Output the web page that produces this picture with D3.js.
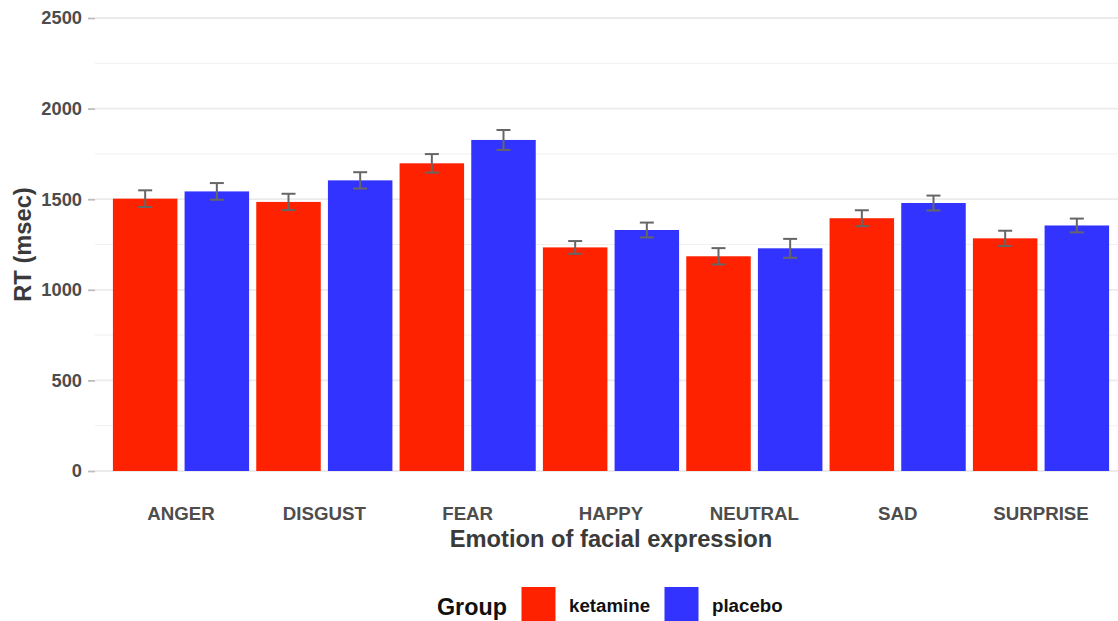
<!DOCTYPE html>
<html>
<head>
<meta charset="utf-8">
<script src="https://cdn.jsdelivr.net/npm/d3@7"></script>
<style>
  body { margin: 0; background: #fff; }
  text { font-family: "Liberation Sans", Arial, sans-serif; font-weight: bold; }
</style>
</head>
<body>
<svg id="chart" width="1118" height="621"></svg>
<script>
// chart data
const emotions = ['ANGER', 'DISGUST', 'FEAR', 'HAPPY', 'NEUTRAL', 'SAD', 'SURPRISE'];
const groups = ['ketamine', 'placebo'];
const ketamineRT = [1503, 1485, 1698, 1234, 1185, 1395, 1284];
const ketamineSE = [46, 45, 51, 35, 45, 44, 42];
const placeboRT = [1543, 1604, 1827, 1330, 1229, 1479, 1355];
const placeboSE = [46, 45, 55, 41, 52, 41, 38];
const yTicks = [0, 500, 1000, 1500, 2000, 2500];
const yMinor = [250, 750, 1250, 1750, 2250];

const colors = { ketamine: '#ff2200', placebo: '#3333ff' };

const rows = [];
emotions.forEach((e, i) => {
  rows.push({ emotion: e, group: 'ketamine', rt: ketamineRT[i], se: ketamineSE[i] });
  rows.push({ emotion: e, group: 'placebo', rt: placeboRT[i], se: placeboSE[i] });
});

const svg = d3.select('#chart');

// panel bounds (the right edge runs past the picture, as in the reference)
const panel = { left: 95, right: 1127, top: 0, bottom: 471 };
const step = (panel.right - panel.left) / (emotions.length + 0.2);

// one band per emotion, with 0.6 of a band of room at each end
const x = d3.scaleBand()
  .domain(emotions)
  .range([panel.left + 0.1 * step, panel.right - 0.1 * step])
  .paddingInner(0)
  .paddingOuter(0);

// dodge: each group gets half a band, bar fills 0.9 of it
const xGroup = d3.scaleBand()
  .domain(groups)
  .range([0, x.bandwidth()])
  .paddingInner(0.1)
  .paddingOuter(0.05);

const y = d3.scaleLinear()
  .domain([0, 2500])
  .range([471, 18]);

// Step 1: gridlines
const grid = svg.append('g').attr('class', 'grid');

grid.selectAll('line.minor')
  .data(yMinor)
  .join('line')
  .attr('class', 'minor')
  .attr('x1', panel.left).attr('x2', 1118)
  .attr('y1', d => y(d)).attr('y2', d => y(d))
  .attr('stroke', '#f0f0f0')
  .attr('stroke-width', 1);

grid.selectAll('line.major')
  .data(yTicks)
  .join('line')
  .attr('class', 'major')
  .attr('x1', panel.left).attr('x2', 1118)
  .attr('y1', d => y(d)).attr('y2', d => y(d))
  .attr('stroke', '#ebebeb')
  .attr('stroke-width', 1.8);

// Step 2: bars
svg.append('g').attr('class', 'bars')
  .selectAll('rect')
  .data(rows)
  .join('rect')
  .attr('x', d => x(d.emotion) + xGroup(d.group))
  .attr('y', d => y(d.rt))
  .attr('width', xGroup.bandwidth())
  .attr('height', d => y(0) - y(d.rt))
  .attr('fill', d => colors[d.group]);

// Step 3: error bars
const errG = svg.append('g').attr('class', 'errors')
  .selectAll('g')
  .data(rows)
  .join('g')
  .attr('transform', d => `translate(${x(d.emotion) + xGroup(d.group) + xGroup.bandwidth() / 2},0)`)
  .attr('stroke', '#666666')
  .attr('stroke-width', 2);

errG.append('line')
  .attr('x1', 0).attr('x2', 0)
  .attr('y1', d => y(d.rt + d.se)).attr('y2', d => y(d.rt - d.se));
errG.append('line')
  .attr('x1', -7).attr('x2', 7)
  .attr('y1', d => y(d.rt + d.se)).attr('y2', d => y(d.rt + d.se));
errG.append('line')
  .attr('x1', -7).attr('x2', 7)
  .attr('y1', d => y(d.rt - d.se)).attr('y2', d => y(d.rt - d.se));

// Step 4: axes
const yAxis = svg.append('g')
  .attr('transform', `translate(${panel.left},0)`)
  .call(d3.axisLeft(y).tickValues(yTicks).tickFormat(d3.format('d')).tickSize(7).tickPadding(6));
yAxis.select('.domain').remove();
yAxis.selectAll('.tick line').attr('stroke', '#bdbdbd').attr('stroke-width', 1.8);
yAxis.selectAll('.tick text')
  .attr('fill', '#4d4d4d')
  .style('font-size', '18.3px');

const xAxis = svg.append('g')
  .attr('transform', `translate(0,${panel.bottom})`)
  .call(d3.axisBottom(x).tickSize(0).tickPadding(35.5));
xAxis.select('.domain').remove();
xAxis.selectAll('.tick text')
  .attr('fill', '#4d4d4d')
  .style('font-size', '18.7px');

// axis titles
svg.append('text')
  .attr('x', (panel.left + panel.right) / 2)
  .attr('y', 547)
  .attr('text-anchor', 'middle')
  .attr('fill', '#3a3a3a')
  .style('font-size', '23.7px')
  .text('Emotion of facial expression');

svg.append('text')
  .attr('transform', `translate(31,${y(1250)}) rotate(-90)`)
  .attr('text-anchor', 'middle')
  .attr('fill', '#3a3a3a')
  .style('font-size', '23.7px')
  .text('RT (msec)');

// Step 5: legend
const legend = svg.append('g').attr('class', 'legend');
legend.append('text')
  .attr('x', 437).attr('y', 615)
  .attr('fill', '#111')
  .style('font-size', '23.3px')
  .text('Group');

const legendX = { ketamine: 521.5, placebo: 664.5 };
const items = legend.selectAll('g.item')
  .data(groups)
  .join('g')
  .attr('class', 'item')
  .attr('transform', d => `translate(${legendX[d]},587)`);
items.append('rect')
  .attr('width', 34).attr('height', 34)
  .attr('fill', d => colors[d]);
items.append('text')
  .attr('x', 47.5).attr('y', 25)
  .attr('fill', '#111')
  .style('font-size', '18.7px')
  .text(d => d);
</script>
</body>
</html>
